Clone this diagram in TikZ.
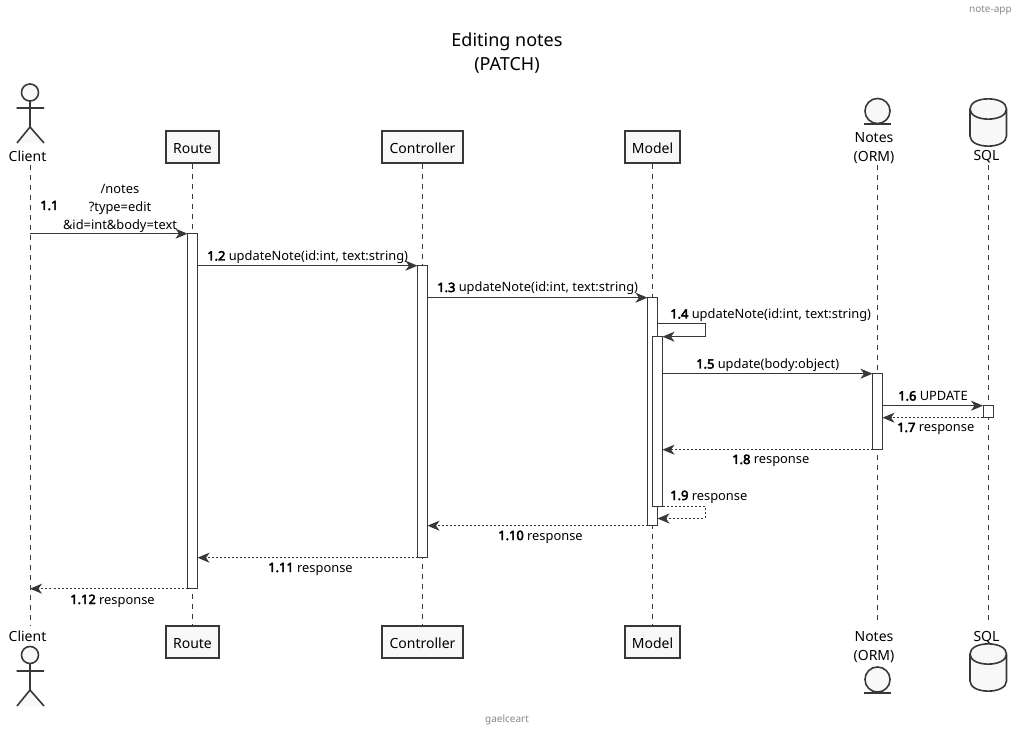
\documentclass[tikz,border=0pt]{standalone}
\usepackage{fontspec}
\setmainfont{Noto Sans}[BoldFont={Noto Sans},BoldFeatures={FakeBold=3.5}]
\usetikzlibrary{arrows.meta,positioning}
\definecolor{linecol}{HTML}{383838}
\definecolor{boxfill}{HTML}{F8F8F8}
\definecolor{faded}{HTML}{888888}
\tikzset{
	partbox/.style={draw=linecol, fill=boxfill, line width=.9pt, inner sep=0pt, minimum height=24pt, text height=10.5pt, text depth=1pt, font=\fontsize{10.5}{12}\selectfont},
	partlabel/.style={inner sep=0pt, align=center, font=\fontsize{10.5}{14.25}\selectfont},
	icon/.style={draw=linecol, fill=boxfill, line width=1.2pt},
	lifeline/.style={draw=linecol, line width=.75pt, dash pattern=on 3.75pt off 3.75pt},
	actbar/.style={draw=linecol, fill=white, line width=.75pt, inner sep=0pt, outer sep=0pt, minimum width=7.5pt},
	msg/.style={draw=linecol, line width=.75pt, -{Stealth[length=9pt,width=7.5pt,inset=2.6pt]}},
	reply/.style={msg, dash pattern=on 1.5pt off 1.5pt},
	msglabel/.style={inner sep=0pt, anchor=base west, font=\fontsize{9.65}{13.5}\selectfont},
	smalltext/.style={inner sep=0pt, text=faded, font=\fontsize{7.5}{9}\selectfont}
}
\begin{document}
\begin{tikzpicture}[x=.75pt, y=-.75pt]
	\useasboundingbox (0,0) rectangle (1022,734);
	\node[smalltext, anchor=east] (header) at (1012,10) {note-app};
	\node[smalltext] (footer) at (507,720) {gaelceart};
	\node[inner sep=0pt, align=center, font=\fontsize{13.5}{18}\selectfont] (title) at (507,53) {Editing notes\\(PATCH)};
	% participants, top and bottom
	\node[partlabel] (client) at (27.5,156) {Client};
	\node[partbox, minimum width=39.75pt] (route) at (192.5,147) {Route};
	\node[partbox, minimum width=60.75pt] (controller) at (422.5,147) {Controller};
	\node[partbox, minimum width=41.25pt] (model) at (652.5,147) {Model};
	\node[partlabel] (notes) at (874,148.5) {Notes\\(ORM)};
	\node[partlabel] (sql) at (986.5,157) {SQL};
	\node[partlabel] (clientB) at (27.5,636) {Client};
	\node[partbox, minimum width=39.75pt] (routeB) at (192.5,642) {Route};
	\node[partbox, minimum width=60.75pt] (controllerB) at (422.5,642) {Controller};
	\node[partbox, minimum width=41.25pt] (modelB) at (652.5,642) {Model};
	\node[partlabel] (notesB) at (874,647.5) {Notes\\(ORM)};
	\node[partlabel] (sqlB) at (986.5,637.5) {SQL};
	% actor
	\draw[icon] (30,92.5) circle (6.4pt);
	\draw[icon] (30,101) -- (30,127) (16.5,108) -- (44,108) (17,143) -- (30,127) -- (44,143);
	\draw[icon] (30,655) circle (6.4pt);
	\draw[icon] (30,663.5) -- (30,690) (16.5,671) -- (44,671) (17,706) -- (30,690) -- (44,706);
	% entity
	\draw[icon] (877.5,111) circle (9.4pt);
	\draw[icon] (864,124) -- (891,124);
	\draw[icon] (877.5,679.5) circle (9.4pt);
	\draw[icon] (864,693) -- (891,693);
	% database
	\draw[icon] (970,109) -- (970,136) .. controls (970,149.5) and (1006.5,149.5) .. (1006.5,136) -- (1006.5,109)
	  .. controls (1006.5,95.5) and (970,95.5) .. (970,109) .. controls (970,122.5) and (1006.5,122.5) .. (1006.5,109);
	\draw[icon] (970,654) -- (970,681) .. controls (970,694.5) and (1006.5,694.5) .. (1006.5,681) -- (1006.5,654)
	  .. controls (1006.5,640.5) and (970,640.5) .. (970,654) .. controls (970,667.5) and (1006.5,667.5) .. (1006.5,654);
	% lifelines
	\coordinate (clientTop) at (30,165);
	\coordinate (clientEnd) at (30,626);
	\coordinate (notesTop) at (877.5,165);
	\coordinate (notesEnd) at (877.5,625);
	\coordinate (sqlTop) at (988,165);
	\coordinate (sqlEnd) at (988,625);
	\draw[lifeline] (clientTop) -- (clientEnd);
	\draw[lifeline] (route) -- (routeB);
	\draw[lifeline] (controller) -- (controllerB);
	\draw[lifeline] (model) -- (modelB);
	\draw[lifeline] (notesTop) -- (notesEnd);
	\draw[lifeline] (sqlTop) -- (sqlEnd);
	% activations
	\node[actbar, minimum height=266.25pt] (routeAct) at (192.5,411.2) {};
	\node[actbar, minimum height=219pt] (controllerAct) at (422.5,411.7) {};
	\node[actbar, minimum height=171pt] (modelAct) at (652.5,411.7) {};
	\node[actbar, minimum height=127.5pt] (innerAct) at (657.5,421.7) {};
	\node[actbar, minimum height=57pt] (notesAct) at (877.5,411.7) {};
	\node[actbar, minimum height=9pt] (sqlAct) at (988,411.7) {};
	% messages
	\coordinate (clientCall) at (clientTop |- routeAct.north);
	\coordinate (clientBack) at (clientTop |- routeAct.south);
	\coordinate (selfCall) at (657.5,323.5);
	\coordinate (selfBack) at (657.5,518.5);
	\draw[msg] (clientCall) -- (routeAct.north west);
	\draw[msg] (routeAct.east |- controllerAct.north) -- (controllerAct.north west);
	\draw[msg] (controllerAct.east |- modelAct.north) -- (modelAct.north west);
	\draw[msg] (selfCall) -- ++(47.5,0) |- (innerAct.north east);
	\draw[msg] (innerAct.east |- notesAct.north) -- (notesAct.north west);
	\draw[msg] (notesAct.east |- sqlAct.north) -- (sqlAct.north west);
	\draw[reply] (sqlAct.south west) -- (notesAct.east |- sqlAct.south);
	\draw[reply] (notesAct.south west) -- (innerAct.east |- notesAct.south);
	\draw[reply] (innerAct.south east) -- (705,506.7) |- (selfBack);
	\draw[reply] (modelAct.south west) -- (controllerAct.east |- modelAct.south);
	\draw[reply] (controllerAct.south west) -- (routeAct.east |- controllerAct.south);
	\draw[reply] (routeAct.south west) -- (clientBack);
	% labels
	\node[msglabel] (num1) at (40,210) {\textbf{1.1}};
	\node[inner sep=0pt, align=center, font=\fontsize{9.65}{13.5}\selectfont] (lab1) at (120,208.5) {/notes\\?type=edit\\\&id=int\&body=text};
	\node[msglabel] (lab2) at (207,260.5) {\textbf{1.2} updateNote(id:int, text:string)};
	\node[msglabel] (lab3) at (437,292) {\textbf{1.3} updateNote(id:int, text:string)};
	\node[msglabel] (lab4) at (670,318.5) {\textbf{1.4} updateNote(id:int, text:string)};
	\node[msglabel] (lab5) at (696,368.5) {\textbf{1.5} update(body:object)};
	\node[msglabel] (lab6) at (898,400.5) {\textbf{1.6} UPDATE};
	\node[msglabel] (lab7) at (897,432) {\textbf{1.7} response};
	\node[msglabel] (lab8) at (732,464) {\textbf{1.8} response};
	\node[msglabel] (lab9) at (670,500) {\textbf{1.9} response};
	\node[msglabel] (lab10) at (498,540) {\textbf{1.10} response};
	\node[msglabel] (lab11) at (268,572) {\textbf{1.11} response};
	\node[msglabel] (lab12) at (70,604) {\textbf{1.12} response};
\end{tikzpicture}
\end{document}
